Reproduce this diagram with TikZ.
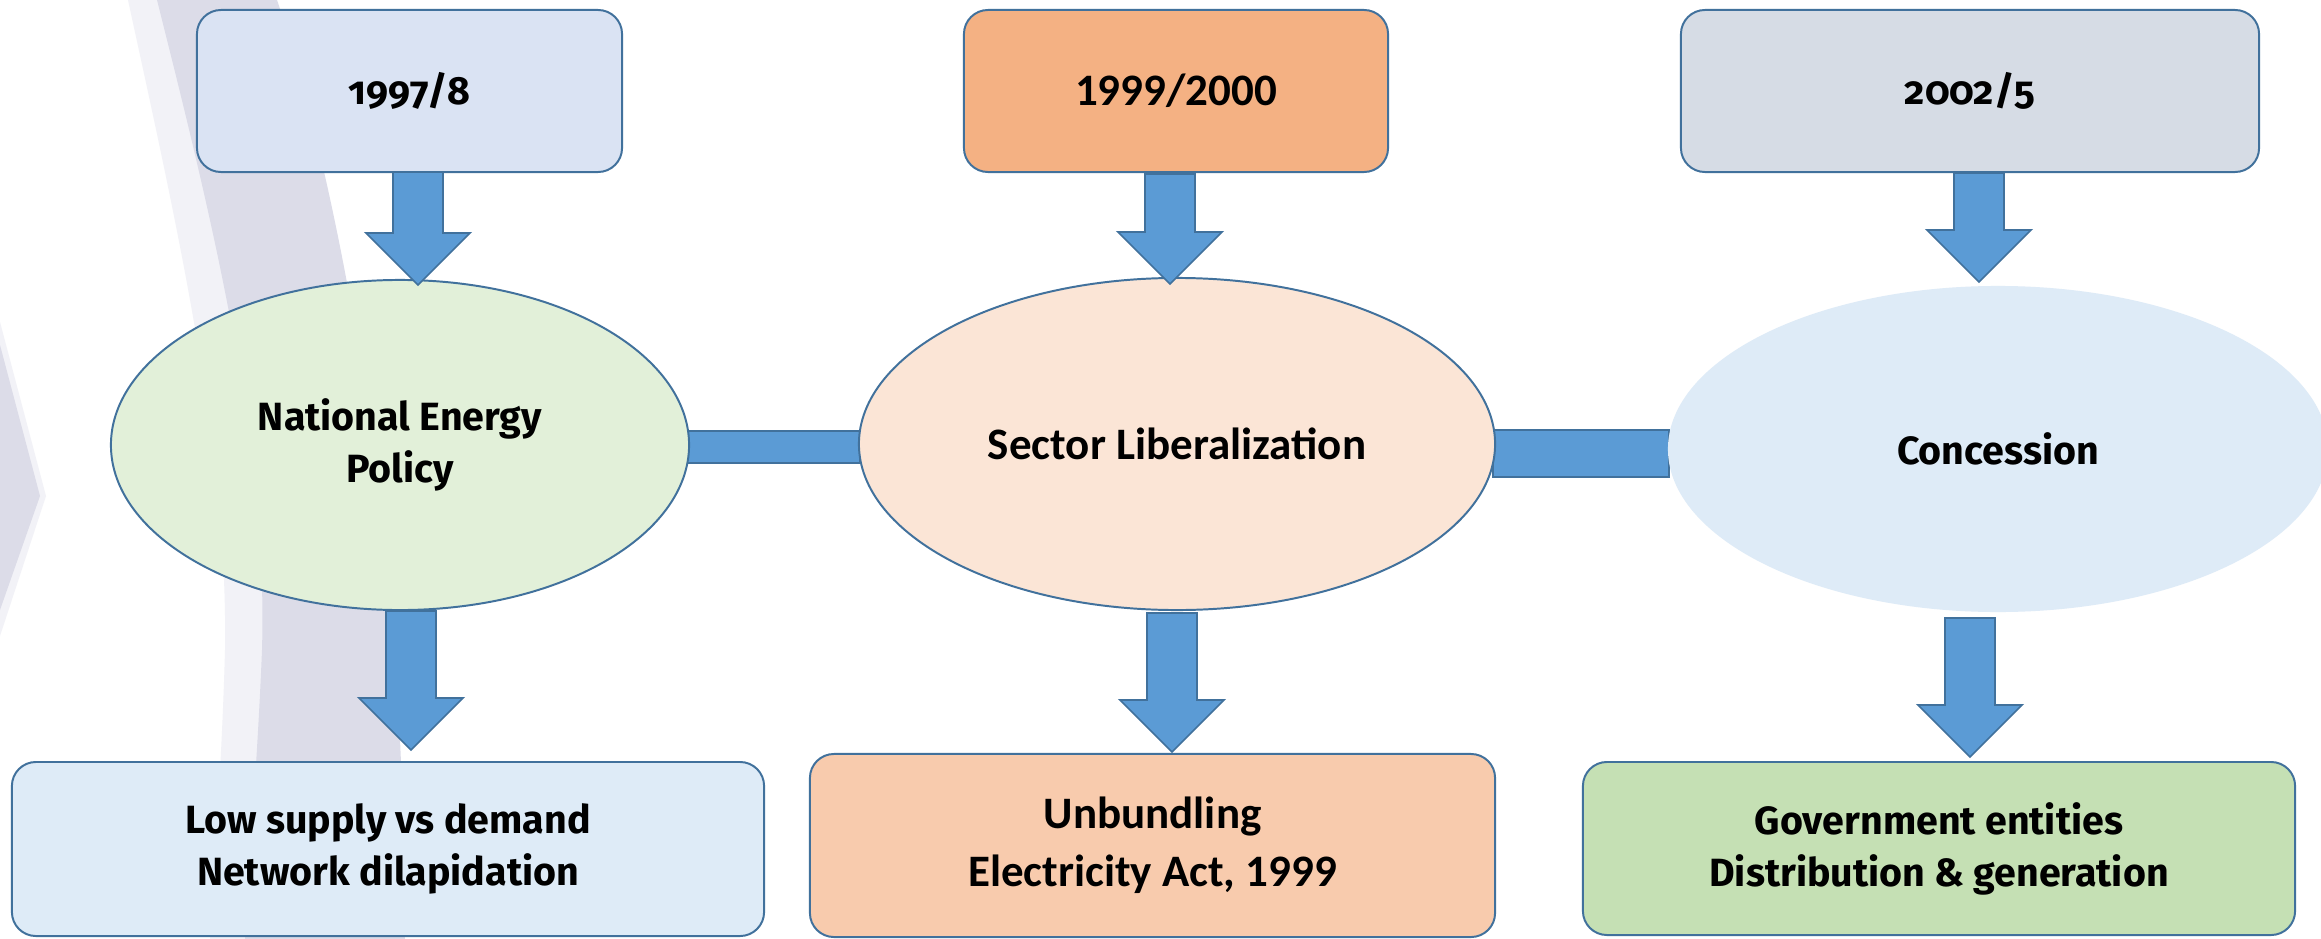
\documentclass[tikz,border=0pt]{standalone}
\usepackage{fontspec}
\usetikzlibrary{shapes.geometric,calc}
\newfontfamily\candara[Numbers=OldStyle]{Fira Sans}
\newfontfamily\calib{Carlito}
\definecolor{edge}{HTML}{41719C}
\definecolor{arrowblue}{HTML}{5B9BD5}
\definecolor{wm}{RGB}{220,220,232}
\definecolor{wmlight}{RGB}{242,242,247}
\definecolor{cA}{HTML}{DAE3F3}
\definecolor{cB}{HTML}{F4B183}
\definecolor{cC}{HTML}{D6DCE5}
\definecolor{eA}{HTML}{E2F0D9}
\definecolor{eB}{HTML}{FBE5D6}
\definecolor{eC}{HTML}{DEEBF7}
\definecolor{bA}{HTML}{DEEBF7}
\definecolor{bB}{HTML}{F8CBAD}
\definecolor{bC}{HTML}{C5E0B4}
\tikzset{
  rbox/.style={draw=edge, line width=1.4pt, rounded corners=0.6cm, inner sep=0pt, align=center},
  oval/.style={ellipse, draw=edge, line width=1.4pt, inner sep=0pt, align=center},
  blk/.style={fill=arrowblue, draw=edge, line width=1.2pt, line join=miter},
  fa/.style={font={\candara\bfseries\fontsize{28pt}{37pt}\selectfont}},
  fb/.style={font={\calib\bfseries\fontsize{32pt}{41pt}\selectfont}},
}
\newcommand\blockdown[2]{%
  \filldraw[blk] let \p1=(#1), \p2=(#2) in
  (\x2-17.8pt,\y1) -- (\x2+17.8pt,\y1) -- (\x2+17.8pt,\y2+37pt) -- (\x2+37pt,\y2+37pt)
  -- (\x2,\y2) -- (\x2-37pt,\y2+37pt) -- (\x2-17.8pt,\y2+37pt) -- cycle;}
\begin{document}
\begin{tikzpicture}[x=0.025cm,y=-0.025cm]
\useasboundingbox (0,0) rectangle (2321,939);
\fill[white] (0,0) rectangle (2321,939);
% watermark: light halo, solid arc band, chevron
\fill[wmlight] (128,0) .. controls (178,230) and (228,450) .. (225,650)
  .. controls (222,760) and (215,850) .. (210,939) -- (260,939) -- (300,600) -- (200,0) -- cycle;
\fill[wm] (157,0) .. controls (215,230) and (268,450) .. (262,650)
  .. controls (258,750) and (250,850) .. (245,939)
  -- (405,939) -- (402,790) .. controls (390,420) and (318,120) .. (277,0) -- cycle;
\fill[wmlight] (0,322) -- (46,496) -- (0,636) -- cycle;
\fill[wm] (0,345) -- (40,496) -- (0,610) -- cycle;

% top boxes
\node[rbox, fill=cA, fa, minimum width=10.625cm, minimum height=4.05cm] (t1) at (409.5,91) {1997/8};
\node[rbox, fill=cB, fb, minimum width=10.6cm, minimum height=4.05cm] (t2) at (1176,91) {1999/2000};
\node[rbox, fill=cC, fa, minimum width=14.45cm, minimum height=4.05cm] (t3) at (1970,91) {2002/5};

% ellipse centres and outlines (for anchors)
\path (400,445) coordinate (c1) (1177,444) coordinate (c2) (1998,449) coordinate (c3);
\node[oval, draw=none, minimum width=14.45cm, minimum height=8.25cm] (e1) at (c1) {};
\node[oval, draw=none, minimum width=15.9cm, minimum height=8.3cm] (e2) at (c2) {};
\node[oval, draw=none, minimum width=16.5cm, minimum height=8.15cm] (e3) at (c3) {};

% horizontal bars between the ellipses
\filldraw[blk] ($(e1.east)+(-5,-14)$) rectangle ($(e2.west)+(2,19)$);
\filldraw[blk] ($(e2.east)+(-3,-14)$) rectangle ($(e3.west)+(2,28)$);

\node[oval, fill=eA, fa, minimum width=14.45cm, minimum height=8.25cm] at (c1) {National Energy\\Policy};
\node[oval, fill=eB, fb, minimum width=15.9cm, minimum height=8.3cm] at (c2) {Sector Liberalization};
\node[oval, draw=none, fill=eC, fa, minimum width=16.5cm, minimum height=8.15cm] at (c3) {Concession};

% bottom boxes
\node[rbox, fill=bA, fa, minimum width=18.8cm, minimum height=4.35cm] (b1) at (388,849) {Low supply vs demand\\Network dilapidation};
\node[rbox, fill=bB, fb, minimum width=17.125cm, minimum height=4.575cm] (b2) at (1152.5,845.5) {Unbundling\\Electricity Act, 1999};
\node[rbox, fill=bC, fa, minimum width=17.8cm, minimum height=4.325cm] (b3) at (1939,848.5) {Government entities\\Distribution \& generation};

% block arrows
\path (418,172) coordinate (a1s) (418,285) coordinate (a1t)
      (411,611) coordinate (a2s) (411,750) coordinate (a2t)
      (1170,174) coordinate (a3s) (1170,284) coordinate (a3t)
      (1172,613) coordinate (a4s) (1172,752) coordinate (a4t)
      (1979,173) coordinate (a5s) (1979,282) coordinate (a5t)
      (1970,618) coordinate (a6s) (1970,757) coordinate (a6t);
\blockdown{a1s}{a1t}
\blockdown{a2s}{a2t}
\blockdown{a3s}{a3t}
\blockdown{a4s}{a4t}
\blockdown{a5s}{a5t}
\blockdown{a6s}{a6t}
\end{tikzpicture}
\end{document}
